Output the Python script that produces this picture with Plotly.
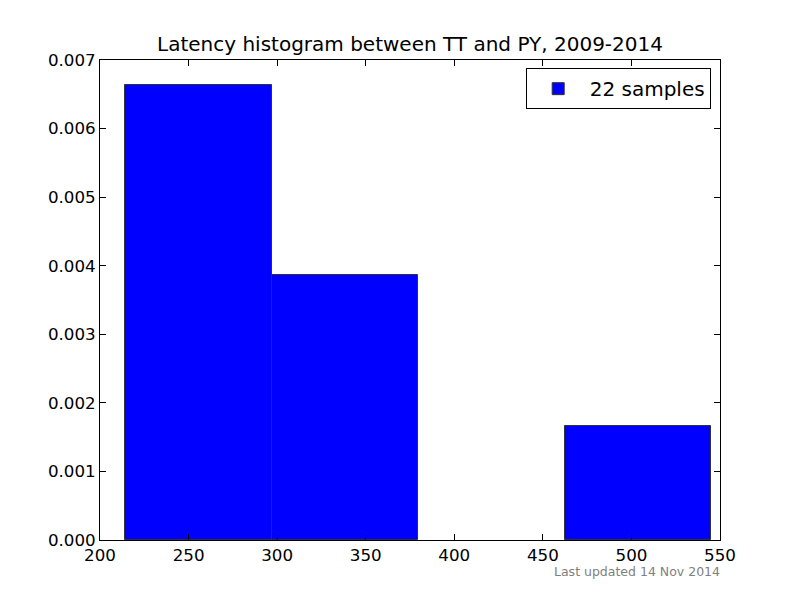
import plotly.graph_objects as go

# Data (density, 22 samples)
bin_edges = [214.3, 297.0, 379.7, 462.4, 545.1]
density = [0.00663, 0.00386, 0.0, 0.00166]
series_name = "22 samples"
title_text = "Latency histogram between TT and PY, 2009-2014"
footer_text = "Last updated 14 Nov 2014"
x_ticks = [200, 250, 300, 350, 400, 450, 500, 550]
y_ticks = [0.000, 0.001, 0.002, 0.003, 0.004, 0.005, 0.006, 0.007]

centers = [(a + b) / 2 for a, b in zip(bin_edges[:-1], bin_edges[1:])]
widths = [b - a for a, b in zip(bin_edges[:-1], bin_edges[1:])]
edge_widths = [1 if d > 0 else 0 for d in density]

FONT = "DejaVu Sans"

fig = go.Figure()
fig.add_trace(go.Bar(
    x=centers, y=density, width=widths, name=series_name,
    marker=dict(color="#0000ff", line=dict(color="#333333", width=edge_widths)),
    showlegend=True,
))

axis_common = dict(
    showgrid=False, zeroline=False, showline=True, linecolor="black", linewidth=1,
    mirror="ticks", ticks="inside", ticklen=6, tickcolor="black", tickwidth=1,
    tickfont=dict(family=FONT, size=16.7, color="black"),
)

fig.update_layout(
    width=800, height=600,
    margin=dict(l=92, r=88, t=52, b=68),
    paper_bgcolor="white", plot_bgcolor="white",
    bargap=0,
    xaxis=dict(range=[200, 550], tickvals=x_ticks, **axis_common),
    yaxis=dict(range=[0, 0.007], tickvals=y_ticks, tickformat=".3f", **axis_common),
    legend=dict(
        x=0.985, y=0.983, xanchor="right", yanchor="top",
        bordercolor="black", borderwidth=1, bgcolor="white",
        font=dict(family=FONT, size=20, color="black"),
        itemwidth=53,
    ),
    font=dict(family=FONT),
    annotations=[
        dict(text=title_text, xref="paper", yref="paper", x=0.5, y=1,
             xanchor="center", yanchor="bottom", yshift=2, showarrow=False,
             font=dict(family=FONT, size=20, color="black")),
        dict(text=footer_text, xref="paper", yref="paper", x=1, y=0,
             xanchor="right", yanchor="top", yshift=-22, xshift=2, showarrow=False,
             font=dict(family=FONT, size=12.5, color="#808080")),
    ],
)

fig.write_html("out.html")
